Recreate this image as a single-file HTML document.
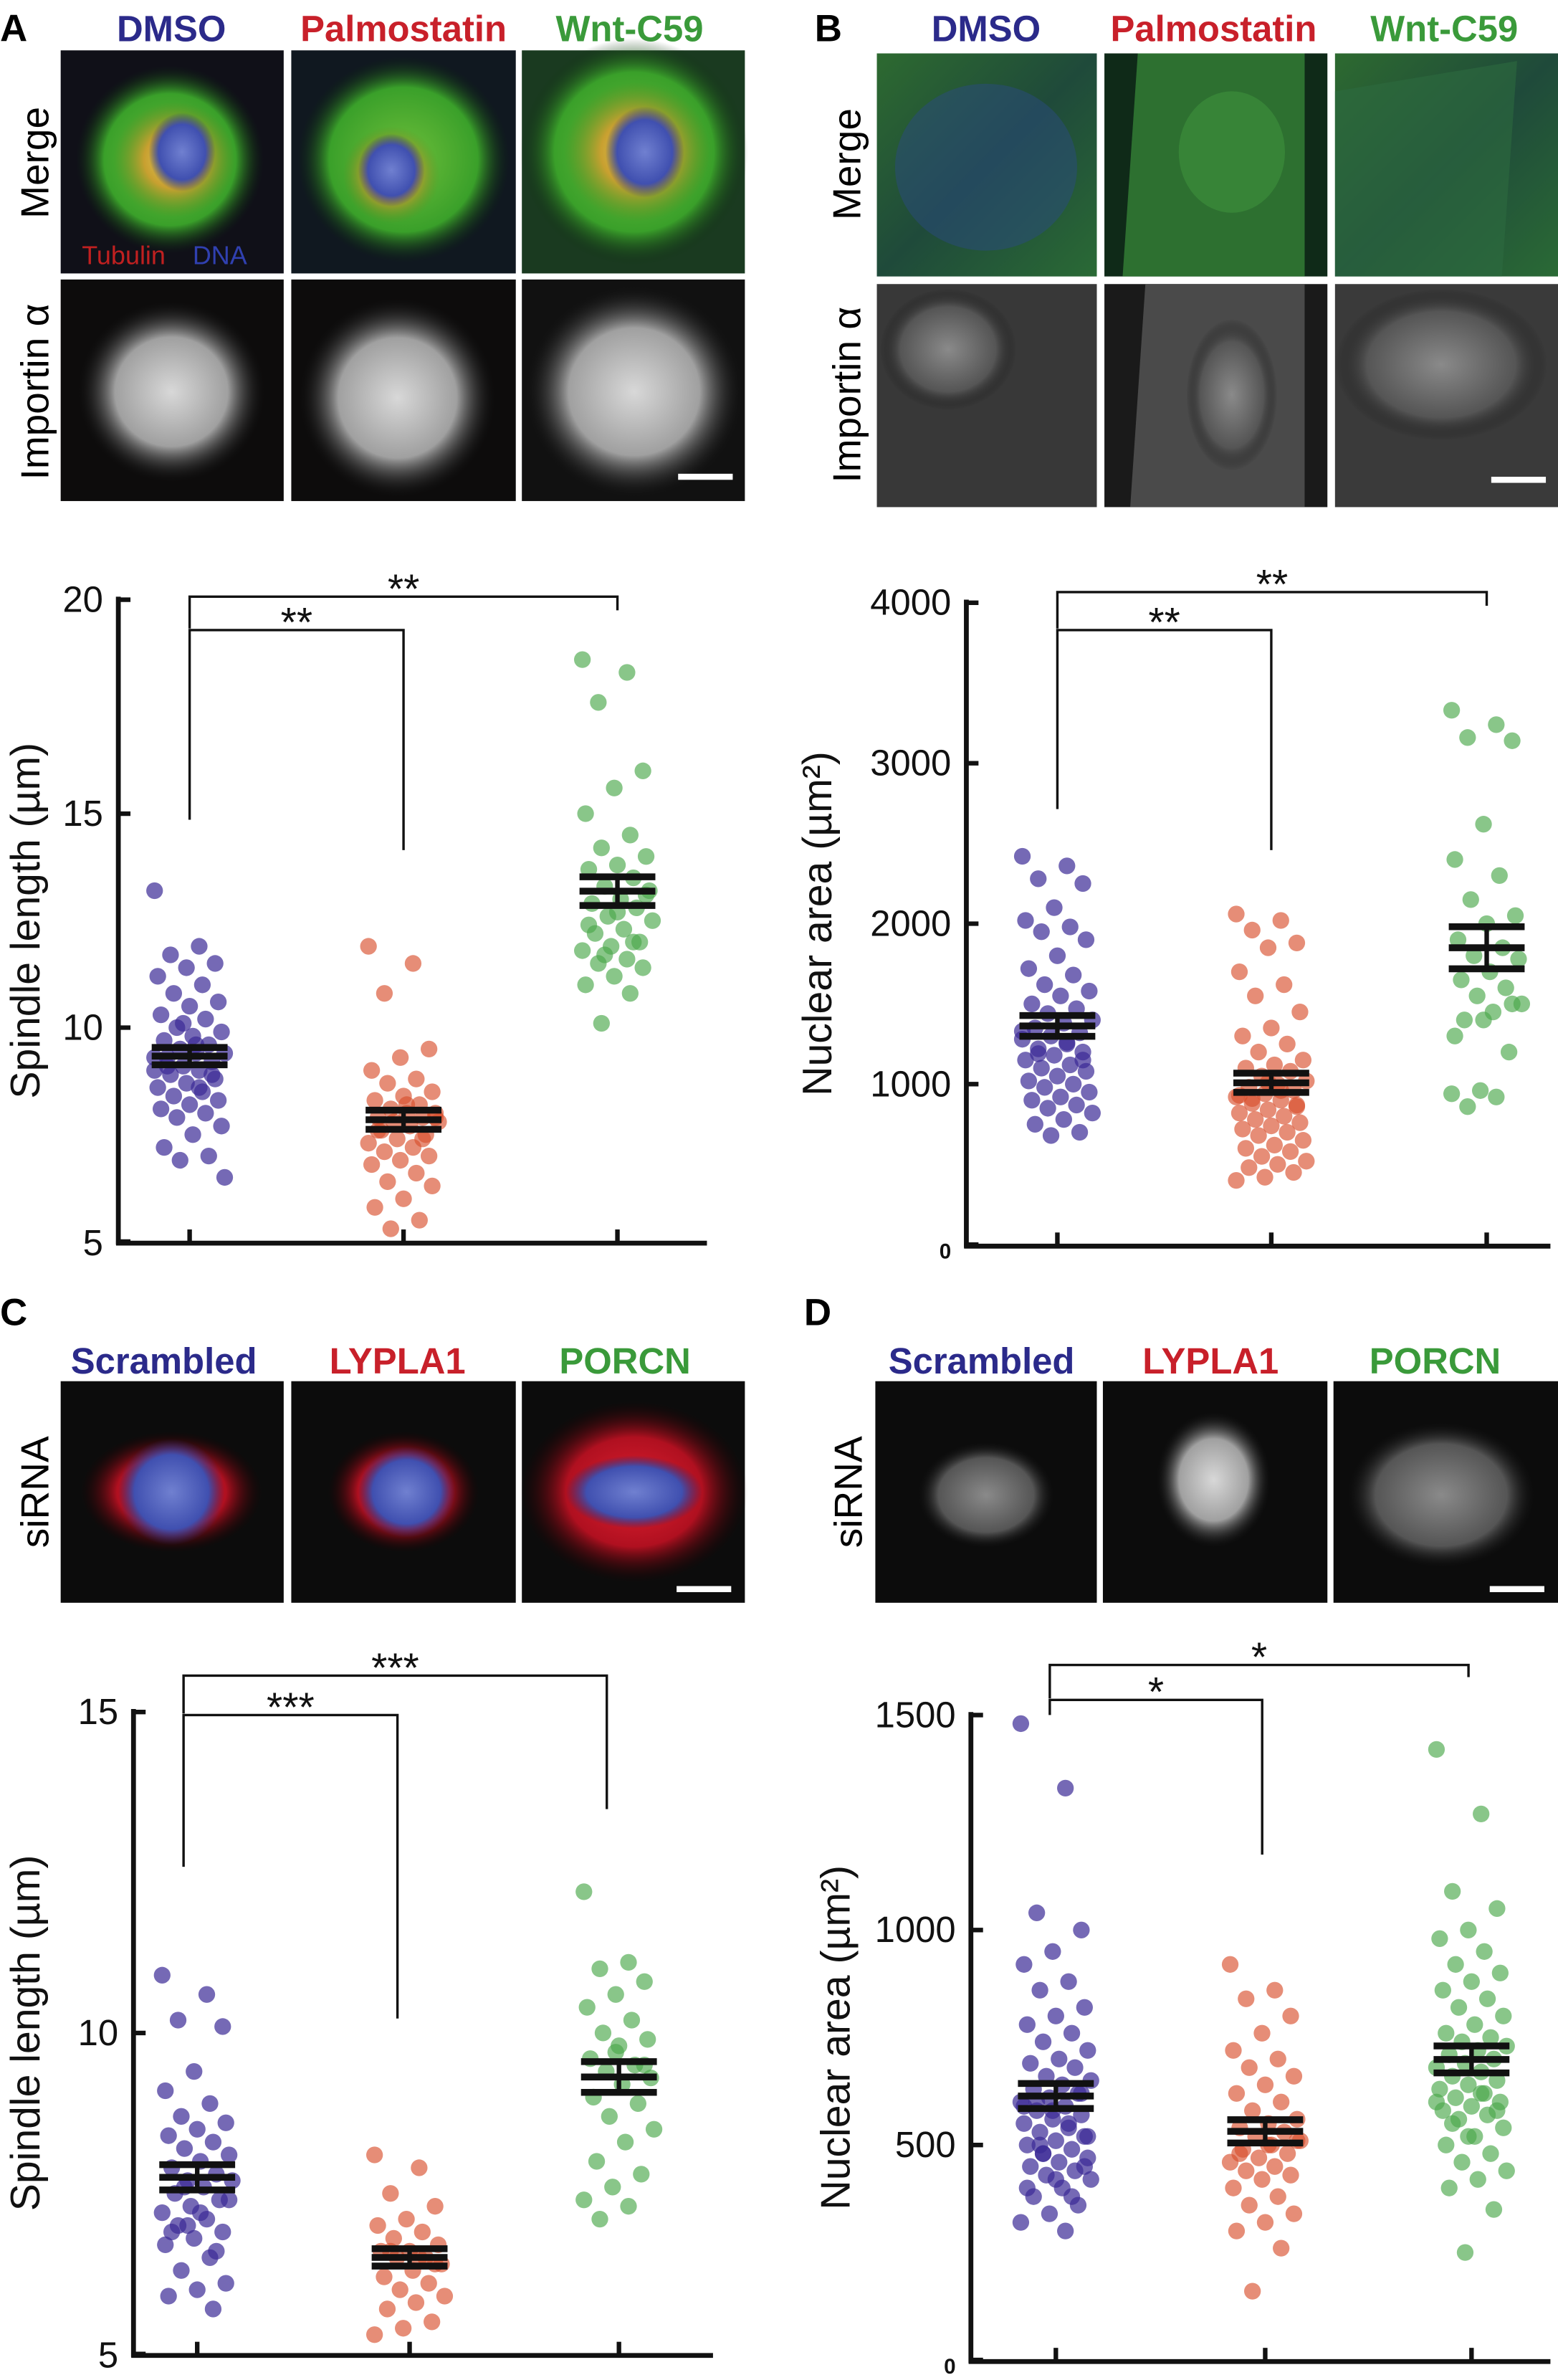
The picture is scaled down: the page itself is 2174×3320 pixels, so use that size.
<!DOCTYPE html>
<html><head><meta charset="utf-8"><style>
html,body{margin:0;padding:0;background:#fff}
svg{display:block}
text{font-family:"Liberation Sans",sans-serif}
</style></head><body>
<svg id="fig" width="2174" height="3320" viewBox="0 0 1027 1568" xmlns="http://www.w3.org/2000/svg">
<defs>
<radialGradient id="gw" cx="50%" cy="50%" r="50%"><stop offset="0" stop-color="#d8d8d8"/><stop offset="0.6" stop-color="#a0a0a0"/><stop offset="1" stop-color="#111" stop-opacity="0"/></radialGradient>
<radialGradient id="gg" cx="50%" cy="50%" r="50%"><stop offset="0" stop-color="#6fbf3a"/><stop offset="0.7" stop-color="#3aa02a"/><stop offset="1" stop-color="#0c2a10" stop-opacity="0"/></radialGradient>
<radialGradient id="gy" cx="50%" cy="50%" r="50%"><stop offset="0" stop-color="#e8d060"/><stop offset="0.5" stop-color="#c8a030"/><stop offset="1" stop-color="#6a8a20" stop-opacity="0"/></radialGradient>
<radialGradient id="gb" cx="50%" cy="50%" r="50%"><stop offset="0" stop-color="#7080d0"/><stop offset="0.7" stop-color="#4050b0"/><stop offset="1" stop-color="#203080" stop-opacity="0"/></radialGradient>
<radialGradient id="gr" cx="50%" cy="50%" r="50%"><stop offset="0" stop-color="#e02030"/><stop offset="0.6" stop-color="#b01020"/><stop offset="1" stop-color="#200" stop-opacity="0"/></radialGradient>
<radialGradient id="gd" cx="50%" cy="50%" r="50%"><stop offset="0" stop-color="#8a8a8a"/><stop offset="0.7" stop-color="#555"/><stop offset="1" stop-color="#111" stop-opacity="0"/></radialGradient>
<linearGradient id="gBg" x1="0" y1="0" x2="1" y2="1"><stop offset="0" stop-color="#2d6a30"/><stop offset="0.5" stop-color="#1f4a3a"/><stop offset="1" stop-color="#2a6a35"/></linearGradient>
</defs>

<g>
<text x="0" y="27" font-size="25" font-weight="bold">A</text>
<text x="113" y="27" font-size="24" font-weight="bold" fill="#2b2a8a" text-anchor="middle">DMSO</text>
<text x="266" y="27" font-size="24" font-weight="bold" fill="#c8202a" text-anchor="middle">Palmostatin</text>
<text x="415" y="27" font-size="24" font-weight="bold" fill="#3a9a3a" text-anchor="middle">Wnt-C59</text>
<text transform="translate(32,107) rotate(-90)" font-size="26" text-anchor="middle">Merge</text>
<text transform="translate(32,258) rotate(-90)" font-size="26" text-anchor="middle">Importin α</text>
<rect x="40" y="33" width="147" height="147" fill="#101018"/><ellipse cx="112" cy="105" rx="62" ry="62" fill="url(#gg)"/><ellipse cx="115" cy="105" rx="40" ry="38" fill="url(#gy)"/><ellipse cx="120" cy="100" rx="22" ry="26" fill="url(#gb)"/>
<text x="54" y="174" font-size="17" fill="#c02020">Tubulin</text><text x="127" y="174" font-size="17" fill="#3040b0">DNA</text>
<rect x="192" y="33" width="148" height="147" fill="#101820"/><ellipse cx="266" cy="105" rx="70" ry="68" fill="url(#gg)"/><ellipse cx="258" cy="115" rx="32" ry="32" fill="url(#gy)"/><ellipse cx="258" cy="112" rx="22" ry="24" fill="url(#gb)"/>
<rect x="344" y="33" width="147" height="147" fill="#1a3a20"/><ellipse cx="418" cy="100" rx="75" ry="75" fill="url(#gg)"/><ellipse cx="420" cy="100" rx="48" ry="46" fill="url(#gy)"/><ellipse cx="425" cy="100" rx="26" ry="30" fill="url(#gb)"/>
<rect x="40" y="184" width="147" height="146" fill="#0d0c0c"/><ellipse cx="113" cy="258" rx="62" ry="60" fill="url(#gw)"/>
<rect x="192" y="184" width="148" height="146" fill="#0d0c0c"/><ellipse cx="262" cy="262" rx="65" ry="66" fill="url(#gw)"/>
<rect x="344" y="184" width="147" height="146" fill="#111"/><ellipse cx="418" cy="258" rx="72" ry="70" fill="url(#gw)"/>
<rect x="447" y="312" width="36" height="4" fill="#fff"/>
</g>

<g>
<text x="537" y="27" font-size="25" font-weight="bold">B</text>
<text x="650" y="27" font-size="24" font-weight="bold" fill="#2b2a8a" text-anchor="middle">DMSO</text>
<text x="800" y="27" font-size="24" font-weight="bold" fill="#c8202a" text-anchor="middle">Palmostatin</text>
<text x="952" y="27" font-size="24" font-weight="bold" fill="#3a9a3a" text-anchor="middle">Wnt-C59</text>
<text transform="translate(567,108) rotate(-90)" font-size="26" text-anchor="middle">Merge</text>
<text transform="translate(567,260) rotate(-90)" font-size="26" text-anchor="middle">Importin α</text>
<rect x="578" y="35" width="145" height="147" fill="url(#gBg)"/><ellipse cx="650" cy="110" rx="60" ry="55" fill="#2a4a80" opacity="0.5"/>
<text x="733" y="176" font-size="17" fill="#3040b0">DNA</text>
<rect x="728" y="35" width="147" height="147" fill="#0f2a18"/><path d="M750 35 L860 35 L860 182 L740 182 Z" fill="#2d7030"/><ellipse cx="812" cy="100" rx="35" ry="40" fill="#3a8a3a" opacity="0.8"/>
<rect x="880" y="35" width="147" height="147" fill="url(#gBg)"/><path d="M880 60 L1000 40 L990 182 L880 182 Z" fill="#2d6a40" opacity="0.6"/>
<rect x="578" y="187" width="145" height="147" fill="#383838"/><ellipse cx="625" cy="230" rx="45" ry="40" fill="url(#gd)"/>
<rect x="728" y="187" width="147" height="147" fill="#1a1a1a"/><path d="M755 187 L860 187 L860 334 L745 334 Z" fill="#4a4a4a"/><ellipse cx="812" cy="260" rx="30" ry="50" fill="url(#gd)"/>
<rect x="880" y="187" width="147" height="147" fill="#3a3a3a"/><ellipse cx="950" cy="240" rx="70" ry="50" fill="url(#gd)"/>
<rect x="983" y="314" width="36" height="4" fill="#fff"/>
</g>

<g>
<text x="0" y="873" font-size="25" font-weight="bold">C</text>
<text x="108" y="905" font-size="24" font-weight="bold" fill="#2b2a8a" text-anchor="middle">Scrambled</text>
<text x="262" y="905" font-size="24" font-weight="bold" fill="#c8202a" text-anchor="middle">LYPLA1</text>
<text x="412" y="905" font-size="24" font-weight="bold" fill="#3a9a3a" text-anchor="middle">PORCN</text>
<text transform="translate(32,983) rotate(-90)" font-size="26" text-anchor="middle">siRNA</text>
<rect x="40" y="910" width="147" height="146" fill="#0c0c0c"/><ellipse cx="113" cy="983" rx="60" ry="40" fill="url(#gr)"/><ellipse cx="113" cy="983" rx="35" ry="35" fill="url(#gb)"/>
<rect x="192" y="910" width="148" height="146" fill="#0c0c0c"/><ellipse cx="266" cy="983" rx="50" ry="40" fill="url(#gr)"/><ellipse cx="268" cy="983" rx="32" ry="30" fill="url(#gb)"/>
<rect x="344" y="910" width="147" height="146" fill="#0c0c0c"/><ellipse cx="418" cy="983" rx="75" ry="60" fill="url(#gr)"/><ellipse cx="418" cy="983" rx="45" ry="24" fill="url(#gb)"/>
<rect x="446" y="1045" width="36" height="4" fill="#fff"/>
</g>

<g>
<text x="530" y="873" font-size="25" font-weight="bold">D</text>
<text x="647" y="905" font-size="24" font-weight="bold" fill="#2b2a8a" text-anchor="middle">Scrambled</text>
<text x="798" y="905" font-size="24" font-weight="bold" fill="#c8202a" text-anchor="middle">LYPLA1</text>
<text x="946" y="905" font-size="24" font-weight="bold" fill="#3a9a3a" text-anchor="middle">PORCN</text>
<text transform="translate(568,983) rotate(-90)" font-size="26" text-anchor="middle">siRNA</text>
<rect x="577" y="910" width="146" height="146" fill="#0c0c0c"/><ellipse cx="650" cy="985" rx="45" ry="35" fill="url(#gd)"/>
<rect x="727" y="910" width="148" height="146" fill="#0c0c0c"/><ellipse cx="800" cy="975" rx="38" ry="45" fill="url(#gw)"/>
<rect x="879" y="910" width="148" height="146" fill="#0c0c0c"/><ellipse cx="950" cy="985" rx="62" ry="48" fill="url(#gd)"/>
<rect x="982" y="1045" width="36" height="4" fill="#fff"/>
</g>

<g id="charts"></g>
</svg>
<script>
// Chart A: spindle length (µm)
const aCats = ["DMSO","Palmostatin","Wnt-C59"];
const aDMSO = [13.2,11.9,11.7,11.5,11.4,11.2,11.0,10.8,10.6,10.5,10.3,10.2,10.0,9.9,9.8,9.7,9.6,9.5,9.4,9.4,9.3,9.2,9.1,9.0,9.0,8.9,8.8,8.7,8.6,8.5,8.4,8.3,8.2,8.1,8.0,7.9,7.7,7.5,7.2,7.0,6.9,6.5,9.6,9.1,8.9,10.1,9.3,8.6];
const aPalm = [11.9,11.5,10.8,9.5,9.3,9.0,8.8,8.7,8.5,8.4,8.3,8.2,8.1,8.0,8.0,7.9,7.9,7.8,7.8,7.7,7.6,7.5,7.4,7.3,7.2,7.1,7.0,6.9,6.8,6.6,6.4,6.3,6.0,5.8,5.5,5.3,7.9,8.2,7.6,7.4];
const aWnt = [18.6,18.3,17.6,16.0,15.6,15.0,14.5,14.2,14.0,13.8,13.7,13.5,13.3,13.2,13.0,12.9,12.8,12.6,12.5,12.3,12.2,12.0,11.9,11.8,11.6,11.5,11.4,11.2,11.0,10.8,10.1,13.1,12.7,12.4,12.0,11.7];
const aTicks = [5,10,15,20];
// Chart B: nuclear area (µm²)
const bDMSO = [2420,2360,2280,2250,2100,2020,1980,1950,1900,1800,1720,1680,1620,1580,1550,1500,1470,1440,1400,1380,1350,1320,1300,1280,1250,1220,1200,1180,1150,1120,1100,1080,1050,1020,1000,980,950,920,900,870,850,820,780,750,700,680,1330,1260,1190,1150];
const bPalm = [2060,2020,1960,1880,1850,1700,1620,1550,1450,1350,1300,1250,1200,1150,1120,1100,1080,1050,1020,1000,980,960,940,920,900,880,860,840,820,800,780,760,740,720,700,680,650,620,600,580,550,520,500,480,450,420,400,960,910,870,1010,930];
const bWnt = [3330,3240,3160,3140,2620,2400,2300,2150,2050,2000,1900,1850,1800,1780,1700,1650,1600,1550,1500,1450,1400,1200,960,940,920,860,1500,1400,1300];
const bTicks = [0,1000,2000,3000,4000];
// Chart C: spindle length siRNA
const cScr = [10.9,10.6,10.2,10.1,9.4,9.1,8.9,8.7,8.6,8.5,8.4,8.3,8.2,8.1,8.0,7.9,7.8,7.7,7.7,7.6,7.5,7.4,7.3,7.2,7.1,7.0,6.9,6.8,6.7,6.5,6.3,6.1,6.0,5.9,5.7,7.6,7.4,7.2,6.9,6.6,7.0];
const cLyp = [8.1,7.9,7.5,7.3,7.1,7.0,6.9,6.8,6.7,6.6,6.6,6.5,6.5,6.4,6.3,6.2,6.1,6.0,5.9,5.8,5.7,5.5,5.4,5.3,6.5,6.6,6.4];
const cPor = [12.2,11.1,11.0,10.8,10.6,10.4,10.2,10.0,9.9,9.8,9.6,9.5,9.4,9.3,9.2,9.0,8.9,8.7,8.5,8.3,8.0,7.8,7.6,7.4,7.3,7.1,9.5,9.7];
const cTicks = [5,10,15];
// Chart D: nuclear area siRNA
const dScr = [1480,1330,1040,1000,950,920,880,860,820,800,780,760,740,720,700,690,680,660,650,640,630,620,610,600,590,580,570,560,550,540,530,520,510,500,490,480,470,460,450,440,430,420,400,380,360,340,320,300,600,620,580,590,550,500,450,420,400,380,480,520];
const dLyp = [920,860,840,800,760,720,700,680,660,640,620,600,580,560,550,540,530,520,510,500,490,480,470,460,450,440,430,420,400,380,360,340,320,300,260,160,510,500,480];
const dPor = [1420,1270,1090,1050,1000,980,950,920,900,880,860,840,820,800,780,760,750,740,730,720,710,700,690,680,670,660,650,640,630,620,610,600,590,580,570,560,540,520,500,480,460,440,420,400,350,250,600,620,550,580,520];
const dTicks = [0,500,1000,1500];

const NS="http://www.w3.org/2000/svg";
const root=document.getElementById('charts');
const COLORS=["#3a2a96","#d8502e","#4aa84a"];
function mk(tag,attrs,parent){const e=document.createElementNS(NS,tag);for(const k in attrs)e.setAttribute(k,attrs[k]);(parent||root).appendChild(e);return e;}

function chart(cfg){
  const g=mk('g',{});
  
  
  const y=v=>cfg.y0-(v-cfg.vmin)/(cfg.vmax-cfg.vmin)*(cfg.y0-cfg.y1);
  const ya=mk('line',{x1:cfg.ax,y1:y(cfg.vmax)-2,x2:cfg.ax,y2:cfg.y0+2,stroke:'#111','stroke-width':3.2},g);
  
  
  const xa=mk('line',{x1:cfg.ax-1.5,y1:cfg.y0+1,x2:cfg.xend,y2:cfg.y0+1,stroke:'#111','stroke-width':3.2},g);
  
  
  cfg.ticks.forEach(t=>{
    mk('line',{x1:cfg.ax,y1:y(t),x2:cfg.ax+8,y2:y(t),stroke:'#111','stroke-width':3},g);
    const tl=mk('text',{x:cfg.ax-10,y:y(t)+(t===cfg.vmin?9:8),'font-size':t===cfg.vmin&&cfg.small0?14:24,'font-weight':t===cfg.vmin&&cfg.small0?'bold':'normal','text-anchor':'end',fill:'#111'},g);
    tl.textContent=t;
    
    
  });
  cfg.xs.forEach(x=>mk('line',{x1:x,y1:cfg.y0,x2:x,y2:cfg.y0-8,stroke:'#111','stroke-width':3},g));
  const yt=mk('text',{transform:`translate(${cfg.titleX},${(cfg.y0+y(cfg.vmax))/2}) rotate(-90)`,'font-size':27,'text-anchor':'middle',fill:'#111'},g);
  yt.textContent=cfg.title;
  
  
  cfg.series.forEach((arr,si)=>{
    const cx=cfg.xs[si];
    arr.forEach((v,i)=>{
      const jit=((i*37)%23-11)*2.1;
      const c=mk('circle',{cx:cx+jit,cy:y(v),r:5.5,fill:COLORS[si],'fill-opacity':si===0?0.7:0.65},g);
      
      
    });
    const n=arr.length, m=arr.reduce((a,b)=>a+b,0)/n;
    const sd=Math.sqrt(arr.reduce((a,b)=>a+(b-m)*(b-m),0)/(n-1)), se=sd/Math.sqrt(n);
    const eg=mk('g',{stroke:'#111','stroke-width':4.5},g);
    
    
    [m-se,m,m+se].forEach(v=>mk('line',{x1:cx-25,x2:cx+25,y1:y(v),y2:y(v)},eg));
    mk('line',{x1:cx,x2:cx,y1:y(m+se),y2:y(m-se),'stroke-width':3},eg);
  });
  cfg.br.forEach(b=>{
    const p=mk('path',{d:`M${b.x1} ${b.d1} V${b.top} H${b.x2} V${b.d2}`,fill:'none',stroke:'#111','stroke-width':1.6},g);
    
    
    const s=mk('text',{x:(b.x1+b.x2)/2,y:b.top+4,'font-size':27,'text-anchor':'middle',fill:'#111'},g);
    s.textContent=b.s;
    
    
  });
}

chart({name:'chart-a-spindle-length',cats:['dmso','palmostatin','wnt-c59'],ax:78,xend:466,y0:818,y1:395,vmin:5,vmax:20,ticks:aTicks,xs:[125,266,407],
  series:[aDMSO,aPalm,aWnt],title:'Spindle length (µm)',titleX:26,
  br:[{x1:125,x2:266,top:415,d1:540,d2:560,s:'**'},{x1:125,x2:407,top:393,d1:414,d2:402,s:'**'}]});
chart({name:'chart-b-nuclear-area',cats:['dmso','palmostatin','wnt-c59'],ax:637,xend:1022,y0:820,y1:397,vmin:0,vmax:4000,ticks:bTicks,xs:[697,838,980],small0:true,
  series:[bDMSO,bPalm,bWnt],title:'Nuclear area (µm²)',titleX:548,
  br:[{x1:697,x2:838,top:415,d1:533,d2:560,s:'**'},{x1:697,x2:980,top:390,d1:414,d2:399,s:'**'}]});
chart({name:'chart-c-spindle-length-sirna',cats:['scrambled','lypla1','porcn'],ax:88,xend:470,y0:1551,y1:1128,vmin:5,vmax:15,ticks:cTicks,xs:[130,270,408],
  series:[cScr,cLyp,cPor],title:'Spindle length (µm)',titleX:26,
  br:[{x1:121,x2:262,top:1130,d1:1230,d2:1330,s:'***'},{x1:121,x2:400,top:1104,d1:1129,d2:1192,s:'***'}]});
chart({name:'chart-d-nuclear-area-sirna',cats:['scrambled','lypla1','porcn'],ax:640,xend:1022,y0:1555,y1:1130,vmin:0,vmax:1500,ticks:dTicks,xs:[696,834,970],small0:true,
  series:[dScr,dLyp,dPor],title:'Nuclear area (µm²)',titleX:560,
  br:[{x1:692,x2:832,top:1120,d1:1130,d2:1222,s:'*'},{x1:692,x2:968,top:1097,d1:1119,d2:1105,s:'*'}]});
</script>
</body></html>
